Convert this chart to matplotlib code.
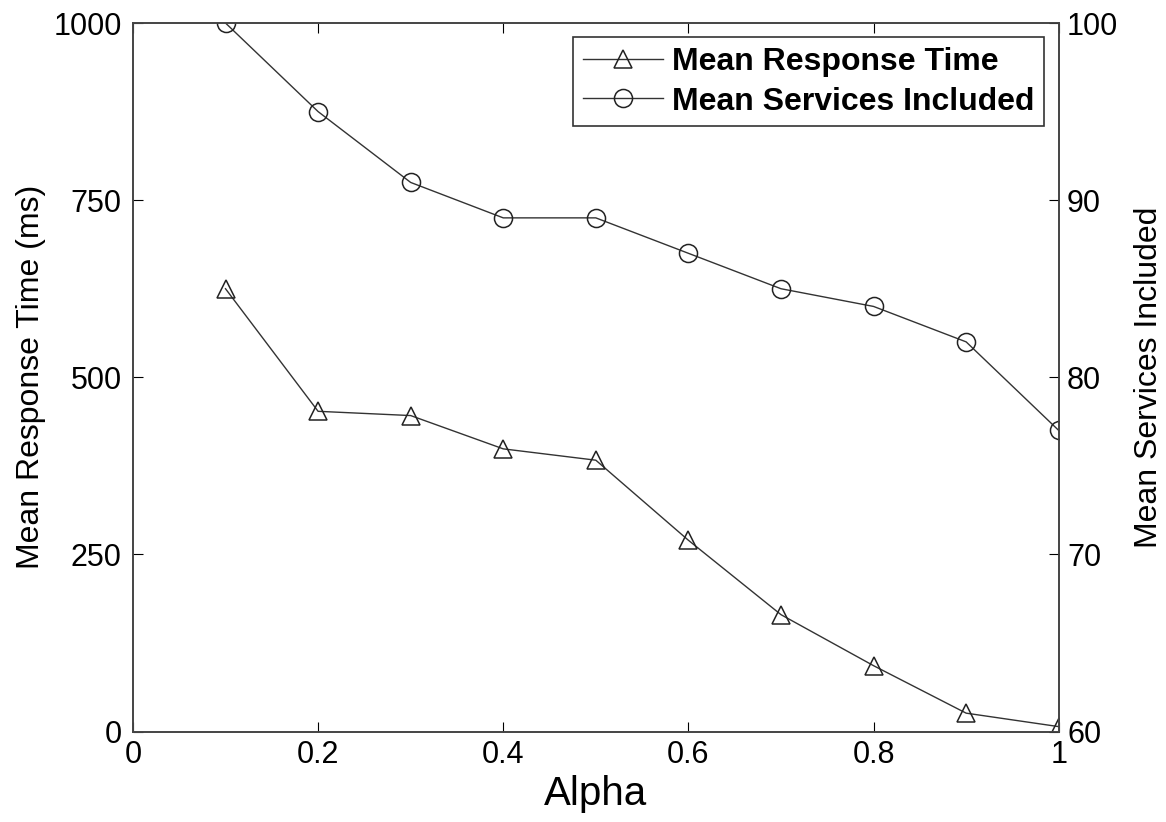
import matplotlib
matplotlib.use("Agg")
import matplotlib.pyplot as plt

# donnees
alpha = [0.1, 0.2, 0.3, 0.4, 0.5, 0.6, 0.7, 0.8, 0.9, 1.0]
resp_time = [625, 452, 446, 399, 383, 270, 165, 93, 26, 7]
services = [100, 95, 91, 89, 89, 87, 85, 84, 82, 77]

plt.rcParams['font.family'] = ['Liberation Sans', 'DejaVu Sans']

fig = plt.figure(figsize=(11.66, 8.22), dpi=100)
ax = fig.add_axes([0.114, 0.110, 0.794, 0.862])
ax2 = ax.twinx()

l1, = ax.plot(alpha, resp_time, color='#333333', lw=1, marker='^', ms=13,
              mfc='none', mec='#222222', mew=1.1, label='Mean Response Time')
l2, = ax2.plot(alpha, services, color='#333333', lw=1, marker='o', ms=13,
               mfc='none', mec='#222222', mew=1.1, label='Mean Services Included')

ax.set_xlim(0, 1)
ax.set_ylim(0, 1000)
ax2.set_ylim(60, 100)
ax.set_xticks([0, 0.2, 0.4, 0.6, 0.8, 1])
ax.set_xticklabels(['0', '0.2', '0.4', '0.6', '0.8', '1'])
ax.set_yticks([0, 250, 500, 750, 1000])
ax2.set_yticks([60, 70, 80, 90, 100])

ax.tick_params(axis='x', direction='in', top=True, length=7, labelsize=22, pad=6)
ax.tick_params(axis='y', direction='in', right=False, length=7, labelsize=22, pad=8)
ax2.tick_params(axis='y', direction='in', length=7, labelsize=22, pad=6)

for a in (ax, ax2):
    for s in a.spines.values():
        s.set_color('#444444')
        s.set_linewidth(1.2)

ax.set_xlabel('Alpha', fontsize=29, labelpad=4)
ax.set_ylabel('Mean Response Time (ms)', fontsize=23, labelpad=5)
ax2.set_ylabel('Mean Services Included', fontsize=23, labelpad=11)

leg = ax.legend(handles=[l1, l2], loc='upper right',
                prop={'weight': 'bold', 'size': 23}, fancybox=False,
                edgecolor='#333333', framealpha=1, borderaxespad=0.45,
                handlelength=2.5, handletextpad=0.3, labelspacing=0.3,
                borderpad=0.3)
leg.get_frame().set_linewidth(1.2)

fig.savefig('out.png', dpi=100)
